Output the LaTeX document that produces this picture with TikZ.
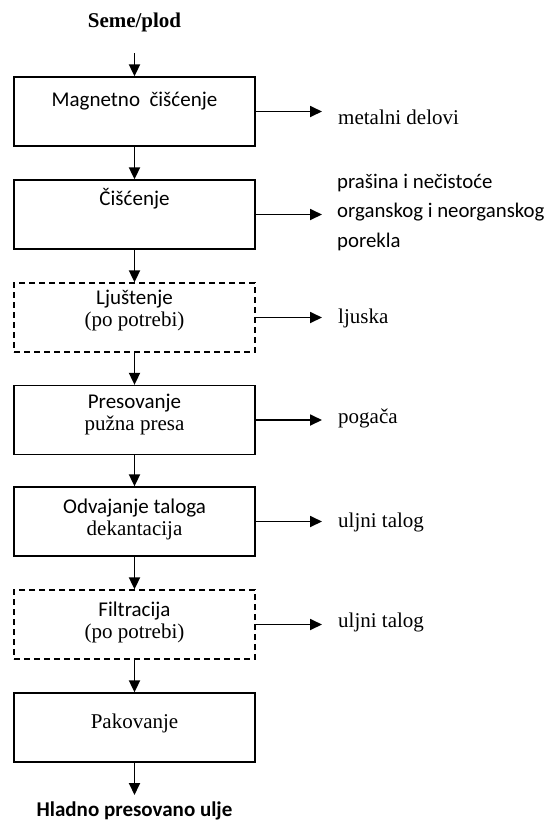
\documentclass[tikz,border=0pt]{standalone}
\usepackage{fontspec}
\setmainfont{Liberation Serif}
\setsansfont{Carlito}
\usetikzlibrary{arrows.meta}
\tikzset{
  stepbox/.style={draw, line width=1.3pt, minimum width=241pt, minimum height=69pt, inner sep=0pt},
  optbox/.style={stepbox, dash pattern=on 6pt off 4pt},
  flow/.style={line width=1.8pt, -{Triangle[length=12pt,width=11pt]}},
  waste/.style={flow, shorten >=16pt},
  steptext/.style={align=center, inner sep=0pt, font=\fontsize{21}{22}\selectfont},
  outtext/.style={anchor=west, align=left, inner sep=0pt, font=\fontsize{21}{29.5}\selectfont}
}
\begin{document}
\begin{tikzpicture}[x=1pt,y=-1pt]
    \useasboundingbox (0,0) rectangle (551,823);
    %Input
    \node[font=\bfseries\fontsize{21}{24}\selectfont] (seme) at (134.5,22) {Seme/plod};
    \coordinate (semein) at (134.5,53);
    %Magnetic cleaning
    \node[stepbox] (magn) at (134.5,111.5) {};
    \node[steptext] (magnt) at ([yshift=10pt]magn.center) {\sffamily Magnetno\ \ čišćenje};
    \node[outtext] (metal) at (338,117) {metalni delovi};
    %Cleaning
    \node[stepbox] (cisc) at (134.5,214.5) {};
    \node[steptext] (cisct) at ([yshift=16pt]cisc.center) {\sffamily Čišćenje};
    \node[outtext,font=\sffamily\fontsize{20.8}{29.5}\selectfont] (prasina) at (337,212.5)
        {prašina i nečistoće\\organskog i neorganskog\\porekla};
    %Dehulling
    \node[optbox] (ljus) at (134.5,317.5) {};
    \node[steptext] (ljust) at ([yshift=6.5pt]ljus.center) {{\sffamily Ljuštenje}\\(po potrebi)};
    \node[outtext] (ljuska) at (338,318) {ljuska};
    %Pressing
    \node[stepbox] (pres) at (134.5,420) {};
    \node[steptext] (prest) at ([yshift=5pt]pres.center) {{\sffamily Presovanje}\\pužna presa};
    \node[outtext] (pogaca) at (338,418) {pogača};
    %Settling
    \node[stepbox] (odv) at (134.5,521.5) {};
    \node[steptext] (odvt) at ([yshift=2.5pt]odv.center) {{\sffamily Odvajanje taloga}\\dekantacija};
    \node[outtext] (talog1) at (338,522) {uljni talog};
    %Filtration
    \node[optbox] (filt) at (134.5,624.5) {};
    \node[steptext] (filtt) at ([yshift=2pt]filt.center) {{\sffamily Filtracija}\\(po potrebi)};
    \node[outtext] (talog2) at (338,622) {uljni talog};
    %Packing
    \node[stepbox] (pak) at (134.5,727.5) {};
    \node[steptext] (pakt) at ([yshift=4pt]pak.center) {Pakovanje};
    \coordinate (pakout) at (134.5,795);
    \node[font=\sffamily\bfseries\fontsize{21}{24}\selectfont] (ulje) at (134.5,811) {Hladno presovano ulje};
    %Main flow
    \draw[flow] (semein) -- (magn.north);
    \draw[flow] (magn.south) -- (cisc.north);
    \draw[flow] (cisc.south) -- (ljus.north);
    \draw[flow] (ljus.south) -- (pres.north);
    \draw[flow] (pres.south) -- (odv.north);
    \draw[flow] (odv.south) -- (filt.north);
    \draw[flow] (filt.south) -- (pak.north);
    \draw[flow] (pak.south) -- (pakout);
    %Side streams
    \draw[waste] (magn.east) -- (magn.east -| metal.west);
    \draw[waste] (cisc.east) -- (cisc.east -| metal.west);
    \draw[waste] (ljus.east) -- (ljus.east -| ljuska.west);
    \draw[waste] (pres.east) -- (pres.east -| pogaca.west);
    \draw[waste] (odv.east) -- (odv.east -| talog1.west);
    \draw[waste] (filt.east) -- (filt.east -| talog2.west);
\end{tikzpicture}
\end{document}
